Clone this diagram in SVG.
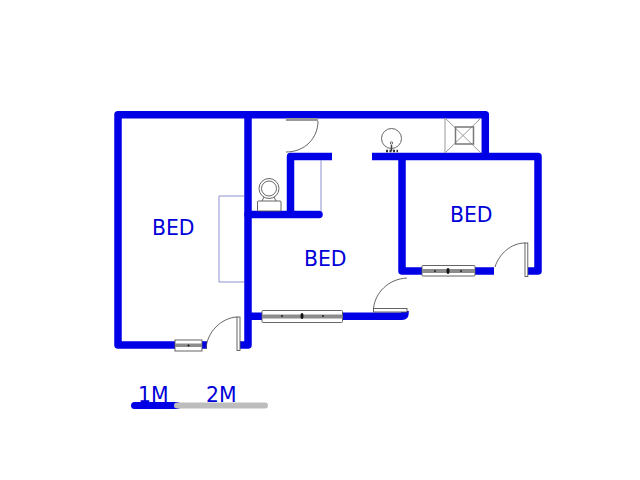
<svg xmlns="http://www.w3.org/2000/svg" width="640" height="480" viewBox="0 0 640 480">
<style>
.w{fill:none;stroke:#0000e6;stroke-width:7.500;stroke-linecap:round;stroke-linejoin:round}
.b{fill:none;stroke:#0000e6;stroke-width:7.500;stroke-linecap:butt;stroke-linejoin:round}
.t{font-family:"DejaVu Sans",sans-serif;font-size:20.400px;fill:#0000d8}
.a{fill:none;stroke:#555;stroke-width:.9}
.l{fill:#fff;stroke:#555;stroke-width:.9}
.g{fill:#8c8c8c}
.p{fill:none;stroke:#8f8fd0;stroke-width:1}
</style>
<rect width="640" height="480" fill="#fff"/>
<g id="connectors">
<path class="b" d="M207 345H118V114.700H485.300V156"/>
<path class="b" d="M248 114.700V345H240"/>
<path class="w" d="M248 214.500H319"/>
<path class="b" d="M332 156.500H290.500V214"/>
<path class="b" d="M372 156.500H538V271H528"/>
<path class="b" d="M402 156.500V271H494"/>
<path class="b" d="M250 316.300H402Q405 316.300 405 313V311"/>
</g>
<g id="closet">
<path class="p" d="M244 196H219V282H244"/>
<path class="p" d="M321 160V211"/>
</g>
<g id="door-top">
<rect x="286" y="118" width="32" height="3" fill="#999"/>
<path class="a" d="M318 121C318 138 305 152 286 152"/>
</g>
<g id="door-bed2">
<rect x="373.500" y="308.500" width="33.500" height="3.500" class="l"/>
<path class="a" d="M373.500 308.500C375 293 388 279 407 278"/>
</g>
<g id="door-bed3">
<rect x="525" y="243" width="2.800" height="33.500" class="l"/>
<path class="a" d="M495 267C499 254 511 243 525 243"/>
</g>
<g id="door-bed1">
<rect x="237" y="317" width="3" height="33.500" class="l"/>
<path class="a" d="M206 349C207 332 221 318 237 317"/>
</g>
<g id="window-1">
<rect x="175" y="340" width="27" height="11" class="l"/>
<rect x="175" y="343.500" width="27" height="3.500" class="g"/>
<circle cx="188.500" cy="345.500" r="1" fill="#111"/>
</g>
<g id="window-2">
<rect x="262" y="310.500" width="80.500" height="12" rx="1" class="l"/>
<rect x="262" y="314.500" width="80.500" height="4" class="g"/>
<ellipse cx="302" cy="316" rx="1.500" ry="3" fill="#111"/>
<circle cx="282" cy="316" r="1" fill="#222"/>
<circle cx="323" cy="316" r="1" fill="#222"/>
</g>
<g id="window-3">
<rect x="422" y="265.500" width="53" height="10.500" rx="1" class="l"/>
<rect x="422" y="269" width="53" height="4" class="g"/>
<ellipse cx="448" cy="271" rx="1.500" ry="3" fill="#111"/>
<circle cx="435" cy="271" r="1" fill="#222"/>
<circle cx="461" cy="271" r="1" fill="#222"/>
</g>
<g id="toilet">
<circle cx="269" cy="188.500" r="10" fill="#fff" stroke="#555" stroke-width=".9"/>
<circle cx="269" cy="188.500" r="7.500" fill="none" stroke="#555" stroke-width=".9"/>
<path class="a" d="M264 197L262 201M274 197L276 201"/>
<rect x="257.500" y="201" width="23.500" height="10" rx="1" class="l"/>
</g>
<g id="basin">
<circle cx="391.500" cy="138.500" r="10" class="a"/>
<circle cx="391.500" cy="143" r="1.200" class="a"/>
<path d="M386 151H398" stroke="#333" stroke-width="2.500" stroke-dasharray="2 1.500"/>
<path d="M391.500 145V151" stroke="#444" stroke-width="1.500"/>
</g>
<g id="shaft">
<path d="M445 118L481 153M481 118L445 153M445 118V153" fill="none" stroke="#999" stroke-width="1"/>
<rect x="455.500" y="127" width="18" height="17" fill="none" stroke="#777" stroke-width="1.500"/>
</g>
<g id="labels">
<text class="t" x="152" y="235">BED</text>
<text class="t" x="304" y="266">BED</text>
<text class="t" x="450" y="221.500">BED</text>
</g>
<g id="scale">
<path d="M134.500 405.500H177" stroke="#0000e6" stroke-width="7" stroke-linecap="round"/>
<path d="M177 405.500H265" stroke="#bdbdbd" stroke-width="6" stroke-linecap="round"/>
<text class="t" x="138" y="402">1M</text>
<text class="t" x="206" y="402">2M</text>
</g>
</svg>
